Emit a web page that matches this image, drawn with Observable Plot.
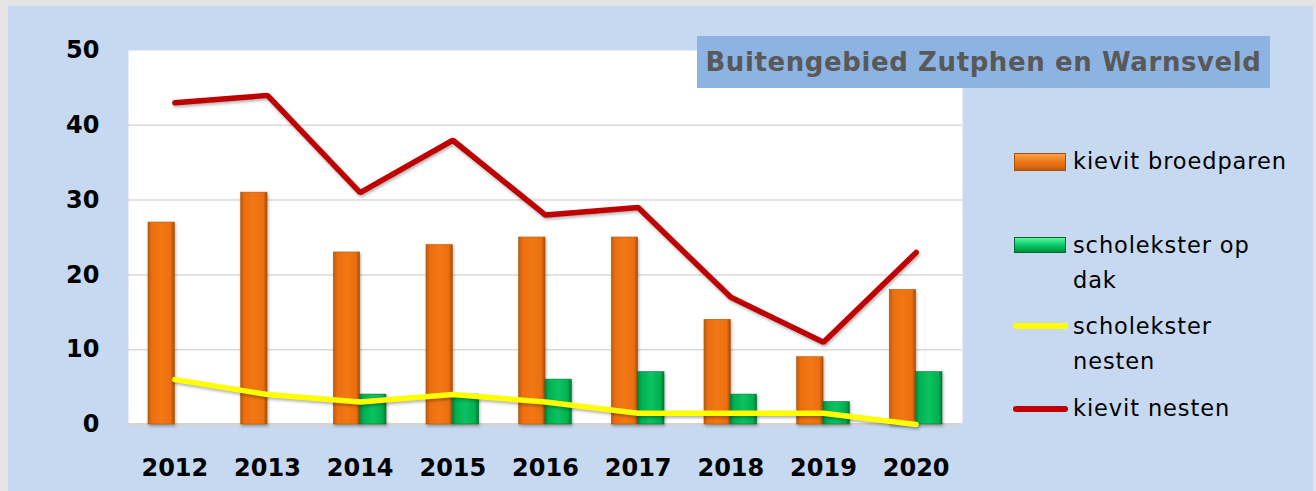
<!DOCTYPE html>
<html>
<head>
<meta charset="utf-8">
<script src="https://cdn.jsdelivr.net/npm/d3@7"></script>
<script src="https://cdn.jsdelivr.net/npm/@observablehq/plot@0.6"></script>
<style>
  body { margin: 0; background: #e4e4e4; }
  #wrap { position: relative; width: 1316px; height: 491px; overflow: hidden; }
  #bg { position: absolute; left: 8px; top: 6px; width: 1305px; height: 485px; background: #c6d9f1; }
  #chart { position: absolute; left: 0; top: 0; }
  #title { position: absolute; left: 697px; top: 36px; width: 573px; height: 52px; background: #8db3e2;
           color: #595959; font: bold 26px "DejaVu Sans", sans-serif; letter-spacing: 0.6px; line-height: 52px; text-align: center; white-space: nowrap; }
  .legtext { position: absolute; left: 1073px; font: 22.5px "DejaVu Sans", sans-serif; letter-spacing: 0.9px; color: #000; line-height: 35px; white-space: nowrap; }
  .sw { position: absolute; left: 1014px; width: 52px; box-sizing: border-box; }
  .ln { position: absolute; left: 1013px; width: 55px; height: 6px; border-radius: 3px; }
</style>
</head>
<body>
<div id="wrap">
  <div id="bg"></div>
  <div id="chart"></div>
  <div id="title"></div>
  <div id="legend"></div>
</div>
<script>
// ---- data ----
const years = ["2012", "2013", "2014", "2015", "2016", "2017", "2018", "2019", "2020"];
const kievitBroedparen = [27, 31, 23, 24, 25, 25, 14, 9, 18];
const scholeksterOpDak = [0, 0, 4, 4, 6, 7, 4, 3, 7];
const scholeksterNesten = [6, 4, 3, 4, 3, 1.5, 1.5, 1.5, 0];
const kievitNesten = [43, 44, 31, 38, 28, 29, 17, 11, 23];
const yTicks = [0, 10, 20, 30, 40, 50];
const gridTicks = [10, 20, 30, 40];
const titleText = "Buitengebied Zutphen en Warnsveld";
const seriesNames = ["kievit broedparen", "scholekster op<br>dak", "scholekster<br>nesten", "kievit nesten"];

const chart = Plot.plot({
  width: 1316,
  height: 491,
  marginTop: 50,
  marginBottom: 67,
  marginLeft: 128,
  marginRight: 354,
  style: { background: "transparent", fontFamily: "DejaVu Sans", fontSize: "24px", fontWeight: "bold", color: "#000", overflow: "visible" },
  x: { type: "band", domain: years, padding: 0, round: false, label: null },
  y: { domain: [0, 50], label: null },
  marks: [
    Plot.frame({ fill: "white", stroke: "none" }),
    Plot.ruleY(gridTicks, { stroke: "#d9d9d9", strokeWidth: 1.5 }),
    Plot.ruleY([0], { stroke: "#d4d4d4", strokeWidth: 3 }),
    Plot.axisY({ ticks: yTicks, tickSize: 0, tickPadding: 29, tickFormat: d => String(d), label: null }),
    Plot.axisX({ tickSize: 0, tickPadding: 34, label: null }),
    Plot.barY(years, { x: d => d, y: (d, i) => kievitBroedparen[i], fill: "url(#gOrange)", stroke: "#b25a10", strokeWidth: 0.6, insetLeft: 20, insetRight: 46.3, className: "bars" }),
    Plot.barY(years, { x: d => d, y: (d, i) => scholeksterOpDak[i], filter: (d, i) => scholeksterOpDak[i] > 0, fill: "url(#gGreen)", stroke: "#007a36", strokeWidth: 0.6, insetLeft: 46.3, insetRight: 20, className: "bars" }),
    Plot.line(years, { x: d => d, y: (d, i) => scholeksterNesten[i], stroke: "#ffff00", strokeWidth: 5.5, strokeLinecap: "round", strokeLinejoin: "round", className: "lines" }),
    Plot.line(years, { x: d => d, y: (d, i) => kievitNesten[i], stroke: "#c00000", strokeWidth: 5.5, strokeLinecap: "round", strokeLinejoin: "miter", className: "lines" })
  ]
});
document.getElementById("chart").appendChild(chart);

// gradients for bevelled bars
const svg = d3.select(chart);
const defs = svg.insert("defs", ":first-child");
function hgrad(id, stops) {
  const g = defs.append("linearGradient").attr("id", id).attr("x1", "0").attr("x2", "1").attr("y1", "0").attr("y2", "0");
  stops.forEach(([o, c]) => g.append("stop").attr("offset", o).attr("stop-color", c));
}
hgrad("gOrange", [[0, "#b85a0c"], [0.14, "#ec6e10"], [0.5, "#f27814"], [0.86, "#ec6e10"], [1, "#a24c08"]]);
hgrad("gGreen", [[0, "#00843c"], [0.14, "#00b050"], [0.5, "#0cc262"], [0.86, "#00b050"], [1, "#007a34"]]);
svg.selectAll(".bars, .lines").style("filter", "drop-shadow(1px 2px 1.5px rgba(0,0,0,0.3))");

// title
document.getElementById("title").textContent = titleText;

// legend
const legend = document.getElementById("legend");
const sw = [
  { kind: "bar", top: 153, h: 18, bg: "linear-gradient(#f9a54a, #f07818 45%, #e06a10 75%, #b85a0c)", border: "#a8500a", textTop: 143.5 },
  { kind: "bar", top: 237, h: 16, bg: "linear-gradient(#5cf5a2, #10d070 45%, #00b050 75%, #008a40)", border: "#006a30", textTop: 227.5 },
  { kind: "line", top: 323, color: "#ffff00", textTop: 308.5 },
  { kind: "line", top: 406, color: "#c00000", textTop: 390.5 }
];
sw.forEach((s, i) => {
  const d = document.createElement("div");
  if (s.kind === "bar") {
    d.className = "sw";
    d.style.top = s.top + "px";
    d.style.height = s.h + "px";
    d.style.background = s.bg;
    d.style.border = "1px solid " + s.border;
  } else {
    d.className = "ln";
    d.style.top = s.top + "px";
    d.style.background = s.color;
  }
  legend.appendChild(d);
  const t = document.createElement("div");
  t.className = "legtext";
  t.style.top = s.textTop + "px";
  t.innerHTML = seriesNames[i];
  legend.appendChild(t);
});
</script>
</body>
</html>
